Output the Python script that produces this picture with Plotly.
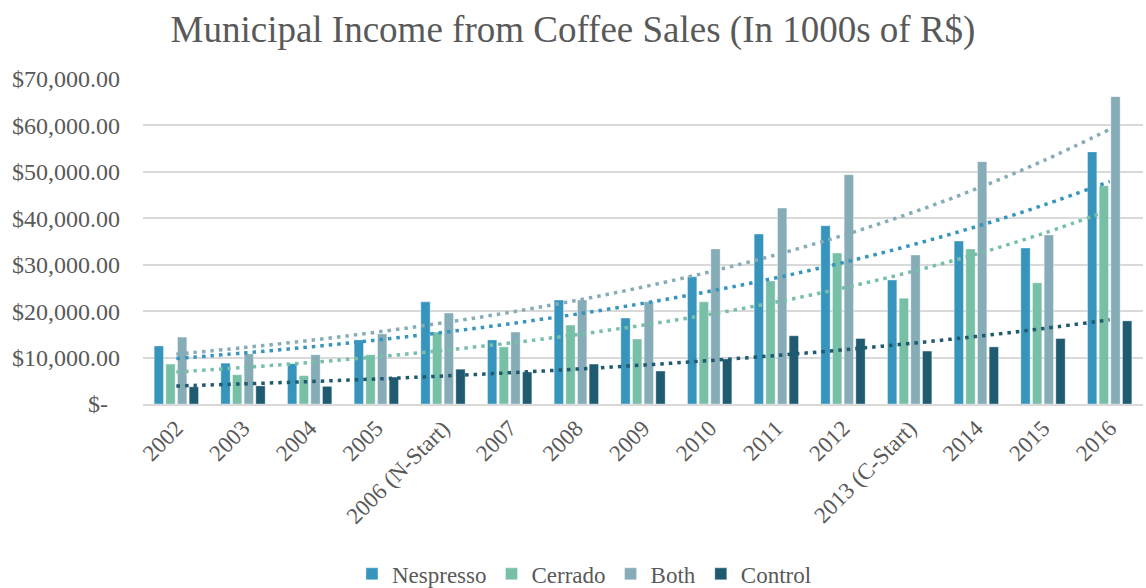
import numpy as np
import plotly.graph_objects as go

years = ["2002", "2003", "2004", "2005", "2006 (N-Start)", "2007", "2008", "2009",
         "2010", "2011", "2012", "2013 (C-Start)", "2014", "2015", "2016"]
nespresso = [12500, 8800, 8700, 13800, 22000, 13800, 22400, 18500, 27400, 36600, 38400, 26700, 35100, 33600, 54300]
cerrado = [8600, 6300, 6100, 10600, 15500, 12300, 17000, 14000, 22000, 26500, 32500, 22800, 33400, 26100, 47000]
both = [14400, 10800, 10600, 15100, 19600, 15500, 22400, 22000, 33400, 42200, 49400, 32100, 52200, 36400, 66200]
control = [3700, 3900, 3800, 5800, 7500, 6900, 8600, 7100, 9700, 14700, 14100, 11400, 12300, 14100, 17900]

series_names = ["Nespresso", "Cerrado", "Both", "Control"]
series_vals = [nespresso, cerrado, both, control]
colors = ["#3795BD", "#78BFA7", "#86ACB7", "#1F5A70"]

ytick_vals = [0, 10000, 20000, 30000, 40000, 50000, 60000, 70000]
ytick_text = ["$-\u00a0\u00a0", "$10,000.00", "$20,000.00", "$30,000.00", "$40,000.00",
              "$50,000.00", "$60,000.00", "$70,000.00"]

FONT = "Liberation Serif"
TXT = "#595959"

fig = go.Figure()
for name, vals, col in zip(series_names, series_vals, colors):
    fig.add_trace(go.Bar(x=years, y=vals, name=name,
                         marker=dict(color=col, line=dict(color="rgba(255,255,255,0.6)", width=0.6))))

# exponential trendlines (least squares on log values, like Excel)
xi = np.arange(1, len(years) + 1)
for name, vals, col in zip(series_names, series_vals, colors):
    b, a = np.polyfit(xi, np.log(vals), 1)
    trend = np.exp(a + b * xi)
    fig.add_trace(go.Scatter(x=years, y=trend, mode="lines", showlegend=False, hoverinfo="skip",
                             line=dict(color=col, width=3.5, dash="3.5px,5px", shape="spline")))

fig.update_layout(
    width=1146, height=588,
    paper_bgcolor="white", plot_bgcolor="white",
    margin=dict(l=143, r=3, t=79, b=184),
    barmode="group", bargap=0.3, bargroupgap=0.2,
    title=dict(text="Municipal Income from Coffee Sales (In 1000s of R$)", x=0.5, xref="container",
               xanchor="center", y=0.951, yanchor="middle",
               font=dict(family=FONT, size=37, color=TXT)),
    font=dict(family=FONT, color=TXT, size=23),
    legend=dict(orientation="h", x=0.51, xref="container", xanchor="center", y=0.024, yref="container",
                yanchor="middle", font=dict(family=FONT, size=23, color=TXT), itemwidth=30,
                traceorder="normal", tracegroupgap=0),
    showlegend=True,
)
fig.update_yaxes(range=[0, 70000], tickvals=ytick_vals, ticktext=ytick_text, showgrid=True,
                 gridcolor="#D9D9D9", gridwidth=1.5, zeroline=False, showline=False,
                 ticks="", ticklen=0, ticklabelstandoff=22,
                 tickfont=dict(family=FONT, size=24, color=TXT))
fig.update_xaxes(showgrid=False, showline=True, linecolor="#D9D9D9", linewidth=1.5, tickangle=-45,
                 ticks="", tickfont=dict(family=FONT, size=23, color=TXT))

fig.write_html("out.html")
